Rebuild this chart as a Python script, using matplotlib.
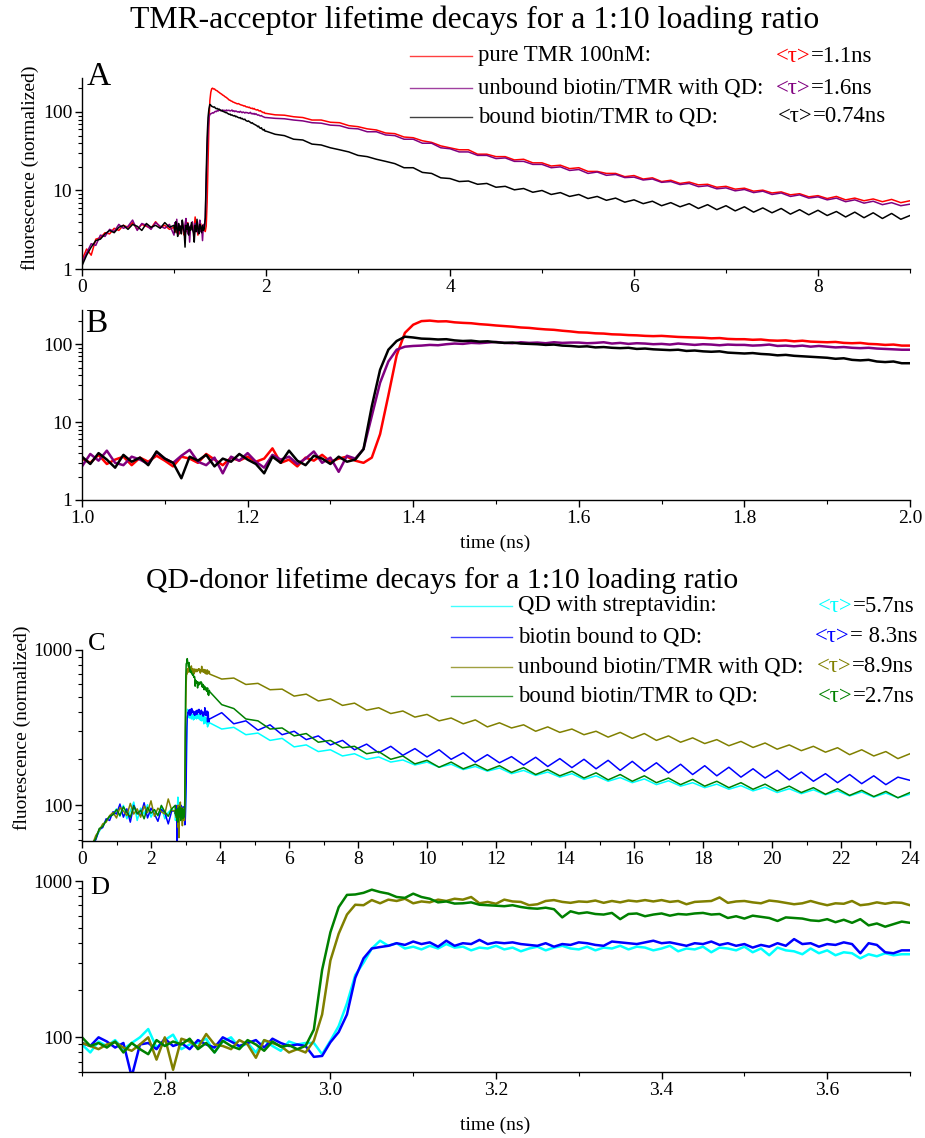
import numpy as np
import matplotlib
matplotlib.use('Agg')
import matplotlib.pyplot as plt
from matplotlib.lines import Line2D
from matplotlib.ticker import FuncFormatter, MultipleLocator, LogLocator, NullFormatter

plt.rcParams['font.family'] = ['Liberation Serif', 'DejaVu Serif']

# time axes (ns): coarse before the window, 10 ps steps inside the zoom window, coarse after
t_tmr = np.concatenate([np.linspace(0, 0.95, 20), np.linspace(1.0, 1.99, 100), np.linspace(2.0, 9.0, 71)])
t_qd = np.concatenate([np.linspace(0, 2.6, 27), np.linspace(2.7, 3.69, 100), np.linspace(3.7, 24.0, 59)])

# TMR-acceptor decays (normalized counts)
tmr_pure = [1.3, 1.8, 1.5, 2.4, 2.5, 2.9, 2.8, 3.3, 3.1, 3.6, 3.4, 3.9, 3.2, 3.7, 3.5, 3.3, 4.0, 3.4, 3.6, 3.2,
            3.4, 3.0, 3.8, 2.9, 3.3, 3.6, 2.8, 3.5, 3.1, 3.7,
            3.2, 2.7, 3.6, 3.4, 3.0, 3.9, 3.3, 2.8, 3.5, 3.2,
            3.6, 3.1, 3.4, 4.6, 3.0, 3.3, 2.7, 3.5, 3.2, 3.8,
            3.1, 3.4, 3.6, 3.2, 3.0, 3.5, 7.0, 22, 72, 140,
            178, 198, 201, 196, 197, 191, 188, 186, 181, 178,
            174, 171, 168, 164, 162, 158, 155, 153, 149, 146,
            142, 141, 138, 137, 134, 133, 131, 130, 128, 127,
            128, 126, 124, 123, 122, 121, 119, 120, 117, 116,
            116, 114, 115, 112, 111, 112, 109, 111, 108, 107,
            106, 107, 104, 103, 104, 101, 100, 98, 99, 96,
            96, 92, 91, 87, 85, 79, 79, 74, 73, 67,
            65, 61, 59, 54, 53, 48, 47, 43, 41, 37,
            35, 33, 33, 29, 29, 27, 27, 24.5, 25, 22.5,
            22.5, 20.5, 21, 19, 19.5, 17.5, 17.5, 16.5, 16.5, 15,
            15.5, 14, 14.5, 13, 13.5, 12.3, 12.8, 11.8, 12, 11,
            11.3, 10.4, 10.7, 9.8, 10.1, 9.3, 9.6, 8.8, 9.1, 8.3,
            8.6, 7.9, 8.4, 7.6, 8.0, 7.4, 7.8, 7.2, 7.7, 7.0,
            7.4]
tmr_unbound = [1.2, 1.6, 2.1, 2.0, 2.7, 2.6, 3.2, 3.0, 3.7, 3.3, 3.5, 4.2, 3.1, 3.8, 3.6, 3.2, 3.9, 3.5, 3.3, 3.7,
               2.7, 3.9, 3.2, 4.3, 3.0, 2.8, 3.6, 3.3, 2.9, 4.1,
               3.4, 3.0, 3.7, 4.4, 3.1, 2.8, 3.5, 2.2, 3.6, 3.2,
               4.0, 3.1, 2.6, 3.8, 3.3, 3.6, 2.9, 3.4, 4.2, 3.0,
               3.5, 2.3, 3.7, 3.4, 4.5, 12, 32, 60, 85, 93,
               95, 96, 98, 97, 100, 102, 101, 104, 103, 105,
               107, 104, 103, 106, 104, 105, 103, 106, 104, 105,
               105, 103, 104, 106, 102, 104, 101, 103, 102, 100,
               101, 99, 102, 100, 98, 100, 99, 97, 99, 98,
               98, 96, 97, 99, 95, 96, 94, 96, 93, 95,
               93, 91, 92, 90, 89, 90, 88, 87, 86, 85,
               85, 83, 82, 79, 77, 73, 72, 68, 67, 62,
               61, 56, 56, 51, 50, 45, 45, 40, 40, 35,
               34, 31, 31, 28, 28, 25.5, 26, 23.5, 23.5, 21.5,
               21.5, 19.5, 20, 18, 18.5, 16.5, 17.2, 15.6, 16, 14.6,
               14.8, 13.6, 14, 12.7, 13, 11.9, 12.3, 11.2, 11.5, 10.5,
               10.8, 9.9, 10.3, 9.4, 9.8, 8.9, 9.3, 8.4, 8.8, 8.0,
               8.3, 7.6, 8.0, 7.2, 7.6, 6.9, 7.3, 6.6, 7.0, 6.4,
               6.7]
tmr_bound = [1.1, 1.5, 1.9, 2.3, 2.4, 2.8, 3.1, 2.9, 3.4, 3.6, 3.2, 3.7, 3.5, 3.1, 3.8, 3.4, 3.6, 3.3, 3.9, 3.4,
             3.6, 2.9, 4.0, 3.3, 2.6, 3.8, 3.1, 3.5, 2.8, 4.2,
             3.4, 3.0, 1.9, 3.6, 3.2, 3.8, 2.7, 3.4, 3.1, 3.9,
             3.3, 2.9, 2.2, 3.6, 3.0, 4.3, 3.2, 2.8, 3.7, 3.4,
             2.9, 3.6, 3.1, 3.3, 4.5, 16, 47, 85, 110, 125,
             122, 118, 117, 115, 116, 112, 110, 111, 108, 109,
             106, 104, 105, 102, 101, 100, 98, 99, 96, 95,
             93, 94, 91, 92, 90, 89, 90, 87, 88, 86,
             85, 84, 85, 82, 83, 81, 80, 81, 78, 77,
             76, 77, 75, 74, 72, 73, 71, 70, 69, 68,
             67, 65, 66, 63, 62, 63, 60, 59, 60, 57,
             57, 52, 50, 45, 44, 39, 38, 35, 33, 31,
             28, 27, 25, 23.5, 22, 19.5, 19.5, 17, 16.5, 14.5,
             14.2, 13, 13.2, 12, 12.3, 11, 11.3, 10.2, 10.6, 9.5,
             10, 8.9, 9.4, 8.4, 8.9, 7.9, 8.4, 7.5, 8.0, 7.1,
             7.6, 6.8, 7.3, 6.4, 7.0, 6.2, 6.8, 5.9, 6.6, 5.7,
             6.4, 5.5, 6.2, 5.3, 6.0, 5.2, 5.9, 5.0, 5.7, 4.9,
             5.6, 4.8, 5.4, 4.6, 5.3, 4.5, 5.2, 4.4, 5.1, 4.3,
             4.8]

# QD-donor decays (normalized counts)
qd_strep = [40, 45, 50, 55, 62, 68, 74, 80, 84, 88, 95, 85, 100, 82, 92, 105, 80, 96, 88, 101, 84, 93, 86, 98, 82, 90, 95,
            90, 80, 94, 88, 96, 84, 92, 100, 113, 86, 96, 104, 84, 90, 92, 98, 80, 94, 100, 86, 92, 80, 96, 88, 82, 94, 90,
            92, 92, 78, 95, 118, 165, 250, 300, 370, 415, 385, 400, 370,
            380, 365, 385, 370, 395, 375, 380, 360, 375, 370,
            385, 365, 375, 355, 370, 380, 360, 375, 385, 370,
            365, 380, 360, 375, 370, 385, 365, 380, 375, 360,
            370, 385, 355, 370, 365, 380, 350, 375, 370, 360,
            380, 350, 370, 335, 375, 360, 355, 340, 370, 345,
            360, 335, 350, 345, 320, 340, 330, 345, 335, 340,
            340, 310, 318, 285, 292, 262, 270, 238, 245, 222,
            228, 208, 215, 198, 205, 190, 196, 182, 190, 176,
            184, 170, 178, 166, 174, 160, 168, 156, 164, 152,
            160, 147, 155, 143, 151, 140, 148, 136, 144, 133,
            140, 130, 137, 127, 134, 124, 131, 121, 128, 119,
            126, 117, 124, 115, 122, 113, 120, 112, 118]
qd_biotin = [42, 47, 52, 58, 60, 70, 72, 82, 80, 91, 88, 102, 84, 95, 78, 100, 90, 86, 104, 83, 96, 88, 79, 94, 90, 76, 92,
             92, 88, 100, 94, 86, 92, 56, 90, 92, 84, 98, 88, 92, 84, 96, 90, 86, 100, 94, 88, 92, 96, 86, 98, 92, 88, 90,
             88, 75, 76, 93, 108, 140, 240, 320, 370, 378, 385, 400, 390,
             410, 395, 405, 380, 415, 385, 400, 395, 420, 395,
             405, 400, 405, 395, 390, 385, 400, 380, 395, 390,
             405, 400, 390, 385, 410, 405, 400, 395, 405, 415,
             400, 405, 395, 385, 400, 395, 410, 390, 400, 385,
             395, 375, 390, 380, 400, 385, 425, 395, 400, 380,
             395, 390, 405, 395, 345, 400, 390, 350, 345, 360,
             360, 395, 335, 350, 305, 330, 285, 300, 265, 280,
             245, 262, 228, 248, 218, 240, 210, 232, 205, 228,
             198, 218, 190, 212, 188, 206, 182, 204, 178, 200,
             175, 198, 172, 195, 168, 192, 166, 188, 162, 184,
             158, 180, 155, 176, 152, 172, 150, 168, 146, 164,
             143, 160, 140, 158, 138, 155, 136, 152, 145]
qd_unbound = [41, 46, 51, 56, 64, 69, 76, 78, 86, 90, 83, 97, 92, 86, 103, 88, 95, 84, 99, 90, 107, 85, 96, 91, 88, 110, 93,
              92, 88, 84, 90, 93, 86, 82, 90, 100, 72, 100, 62, 98, 94, 86, 105, 90, 88, 84, 96, 90, 74, 96, 92, 88, 80, 84,
              80, 95, 140, 310, 460, 610, 705, 700, 755, 720, 760, 745, 770,
              720, 740, 730, 760, 745, 770, 760, 790, 720, 735,
              715, 760, 740, 735, 700, 710, 745, 755, 735, 725,
              740, 735, 750, 725, 745, 730, 750, 740, 755, 740,
              755, 735, 745, 710, 735, 740, 745, 785, 725, 740,
              745, 730, 720, 750, 740, 725, 710, 720, 745, 720,
              700, 720, 715, 745, 700, 710, 730, 715, 730, 725,
              700, 650, 660, 600, 610, 555, 560, 505, 520, 470,
              485, 440, 455, 410, 425, 390, 405, 370, 385, 350,
              365, 335, 355, 320, 340, 315, 330, 300, 320, 295,
              310, 285, 300, 275, 295, 270, 290, 262, 280, 255,
              272, 250, 265, 242, 258, 236, 252, 230, 245, 225,
              240, 220, 235, 212, 228, 208, 222, 200, 215]
qd_bound = [40, 44, 49, 57, 61, 71, 73, 80, 85, 87, 94, 86, 98, 90, 84, 99, 88, 93, 82, 97, 89, 94, 86, 100, 91, 85, 95,
            100, 88, 92, 86, 94, 80, 92, 84, 78, 96, 88, 94, 90, 98, 84, 92, 80, 95, 88, 84, 96, 90, 82, 94, 87, 89, 84,
            88, 112, 270, 470, 680, 815, 820, 840, 880, 850, 830, 790, 780,
            830, 790, 770, 730, 740, 717, 720, 730, 705, 700,
            695, 690, 700, 682, 670, 665, 675, 660, 585, 640,
            620, 630, 615, 610, 625, 570, 615, 620, 595, 610,
            620, 600, 615, 610, 620, 625, 610, 615, 580, 595,
            575, 600, 590, 580, 555, 585, 580, 575, 560, 555,
            570, 545, 565, 540, 570, 520, 535, 510, 530, 550,
            540, 445, 420, 360, 350, 310, 315, 280, 290, 255,
            262, 235, 240, 215, 222, 198, 208, 185, 195, 176,
            190, 172, 184, 168, 180, 163, 175, 158, 170, 155,
            166, 150, 162, 146, 158, 143, 155, 140, 150, 136,
            147, 133, 143, 130, 140, 127, 137, 124, 133, 121,
            130, 118, 128, 116, 125, 114, 123, 112, 121]

tmr_series = [tmr_pure, tmr_unbound, tmr_bound]
tmr_colors = ['#ff0000', '#800080', '#000000']
tmr_labels = ['pure TMR 100nM:', 'unbound biotin/TMR with QD:', 'bound biotin/TMR to QD:']
tmr_taus = ['=1.1ns', '=1.6ns', '=0.74ns']

qd_series = [qd_strep, qd_biotin, qd_unbound, qd_bound]
qd_colors = ['#00ffff', '#0000ff', '#808000', '#008000']
qd_labels = ['QD with streptavidin:', 'biotin bound to QD:', 'unbound biotin/TMR with QD:', 'bound biotin/TMR to QD:']
qd_taus = ['=5.7ns', '= 8.3ns', '=8.9ns', '=2.7ns']

W, H = 925, 1138


def fx(px):
    return px / W


def fy(py):
    return 1 - py / H


def setup(ax, xlim, ylim, major, minor, xfmt):
    ax.set_yscale('log')
    ax.set_xlim(*xlim)
    ax.set_ylim(*ylim)
    ax.xaxis.set_major_locator(MultipleLocator(major))
    ax.xaxis.set_minor_locator(MultipleLocator(minor))
    ax.xaxis.set_major_formatter(FuncFormatter(lambda v, p: xfmt.format(v)))
    ax.yaxis.set_major_locator(LogLocator(base=10))
    ax.yaxis.set_minor_locator(LogLocator(base=10, subs=np.arange(2, 10)))
    ax.yaxis.set_major_formatter(FuncFormatter(lambda v, p: f'{v:g}'))
    ax.yaxis.set_minor_formatter(NullFormatter())
    for s in ['top', 'right']:
        ax.spines[s].set_visible(False)
    for s in ['left', 'bottom']:
        ax.spines[s].set_linewidth(1.0)
    ax.tick_params(which='major', direction='out', length=5, width=1, labelsize=14, pad=2)
    ax.tick_params(which='minor', direction='out', length=3, width=0.8)


def legend_rows(ax, labels, taus, colors, x_line, x_text, x_tau, rows, size):
    for lab, tau, c, row, xt in zip(labels, taus, colors, rows, x_tau):
        fig.add_artist(Line2D([fx(x_line[0]), fx(x_line[1])], [fy(row), fy(row)], color=c, lw=1.0, alpha=0.75,
                              transform=fig.transFigure))
        fig.text(fx(x_text), fy(row), lab, va='center', ha='left', fontsize=size)
        t1 = fig.text(fx(xt), fy(row), '<τ>', color=c, va='center', ha='left', fontsize=size)
        ax.annotate(tau, xy=(1, 0), xycoords=t1, va='bottom', ha='left', fontsize=size, annotation_clip=False)


fig = plt.figure(figsize=(W / 100, H / 100), dpi=100)

axA = fig.add_axes([fx(82), fy(269), fx(910 - 82), (269 - 78) / H])
axB = fig.add_axes([fx(82), fy(500), fx(910 - 82), (500 - 310) / H])
axC = fig.add_axes([fx(82), fy(841), fx(910 - 82), (841 - 650) / H])
axD = fig.add_axes([fx(82), fy(1072), fx(910 - 82), (1072 - 881) / H])

for ax, lw in [(axA, 1.1), (axB, 1.8)]:
    for y, c in zip(tmr_series, tmr_colors):
        ax.plot(t_tmr, y, color=c, lw=lw)
for ax, lw in [(axC, 1.1), (axD, 1.8)]:
    for y, c in zip(qd_series, qd_colors):
        ax.plot(t_qd, y, color=c, lw=lw)

setup(axA, (0, 9), (1, 271), 2, 1, '{:.0f}')
setup(axB, (1.0, 2.0), (1, 275), 0.2, 0.1, '{:.1f}')
setup(axC, (0, 24), (59, 1000), 2, 1, '{:.0f}')
setup(axD, (2.7, 3.7), (60, 1000), 0.2, 0.1, '{:.1f}')

# titles and axis labels
fig.text(fx(475), fy(20), 'TMR-acceptor lifetime decays for a 1:10 loading ratio', ha='center', va='center', fontsize=22.9)
fig.text(fx(442), fy(581), 'QD-donor lifetime decays for a 1:10 loading ratio', ha='center', va='center', fontsize=21.4)
fig.text(fx(30), fy(168), 'fluorescence (normalized)', rotation=90, ha='center', va='center', fontsize=14)
fig.text(fx(22), fy(728), 'fluorescence (normalized)', rotation=90, ha='center', va='center', fontsize=14)
fig.text(fx(495), fy(543), 'time (ns)', ha='center', va='center', fontsize=14)
fig.text(fx(495), fy(1125), 'time (ns)', ha='center', va='center', fontsize=14)

# panel letters
fig.text(fx(87), fy(85), 'A', fontsize=24, va='baseline')
fig.text(fx(85), fy(332), 'B', fontsize=24, va='baseline')
fig.text(fx(88), fy(650), 'C', fontsize=19, va='baseline')
fig.text(fx(90), fy(894), 'D', fontsize=19, va='baseline')

legend_rows(axA, tmr_labels, tmr_taus, tmr_colors, (410, 472), 478, [776, 776, 778], [56, 88, 117], 16.4)
legend_rows(axC, qd_labels, qd_taus, qd_colors, (451, 512), 518, [818, 815, 817, 818], [606, 637, 667, 696], 16.4)

fig.savefig('out.png', dpi=100)
